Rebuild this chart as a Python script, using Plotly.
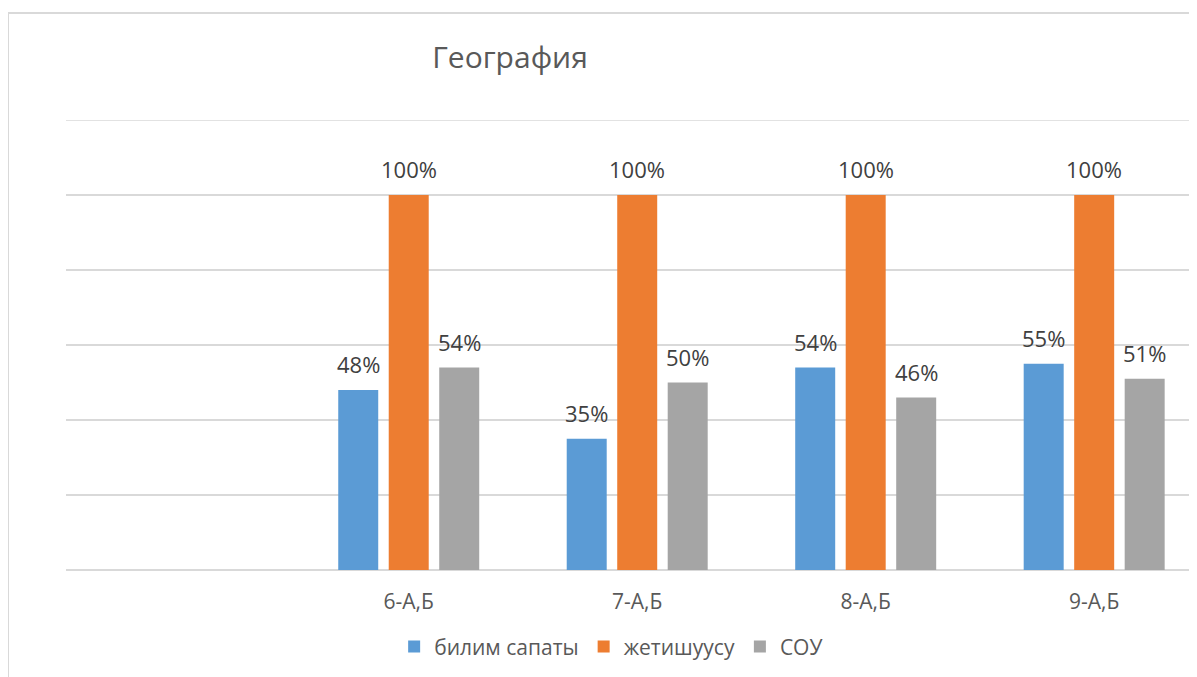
import plotly.graph_objects as go

# classes (first slot is empty in the original sheet)
classes = [" ", "6-А,Б", "7-А,Б", "8-А,Б", "9-А,Б"]
bilim_sapaty = [None, 0.48, 0.35, 0.54, 0.55]
zhetishuusu = [None, 1.00, 1.00, 1.00, 1.00]
sou = [None, 0.54, 0.50, 0.46, 0.51]

series_names = ["билим сапаты", "жетишуусу", "СОУ"]
series_vals = [bilim_sapaty, zhetishuusu, sou]
colors = ["#5B9BD5", "#ED7D31", "#A5A5A5"]

FONT = "Open Sans"

fig = go.Figure()
for name, vals, col in zip(series_names, series_vals, colors):
    fig.add_trace(go.Bar(x=classes, y=vals, name=name, marker_color=col,
                         marker_line_width=0, hoverinfo="skip"))

# data labels, shifted so they sit over their own bar in the group
slot = 50.5
annots = []
for i, vals in enumerate(series_vals):
    for c, v in zip(classes, vals):
        if v is None:
            continue
        annots.append(dict(x=c, y=v, xref="x", yref="y", text=f"{v:.0%}",
                           showarrow=False, xshift=(i - 1) * slot, yshift=26,
                           yanchor="middle",
                           font=dict(family=FONT, size=22, color="#404040")))

# page has an 8px body margin, so everything is drawn 8px left/up of target
fig.update_layout(
    width=1197, height=677,
    margin=dict(l=58, r=8, t=112, b=115),
    paper_bgcolor="white", plot_bgcolor="white",
    barmode="group", bargap=0.337, bargroupgap=0.208,
    title=dict(text="География", x=502 / 1197, xanchor="center",
               y=1 - 49 / 677, yanchor="middle",
               font=dict(family=FONT, size=30, color="#595959")),
    xaxis=dict(range=[-0.5, 4.45], showgrid=False, showline=False,
               ticks="", ticklabelstandoff=17,
               tickfont=dict(family=FONT, size=21, color="#595959")),
    yaxis=dict(range=[0, 1.2], dtick=0.2, showticklabels=False,
               showgrid=True, gridcolor="#D9D9D9", gridwidth=1.5,
               zeroline=True, zerolinecolor="#D9D9D9", zerolinewidth=1.5),
    legend=dict(orientation="h", x=0.482, xanchor="center",
                y=-0.171, yanchor="middle",
                font=dict(family=FONT, size=21, color="#595959")),
    annotations=annots,
    shapes=[
        # top gridline at 120% (not drawn by plotly at the range edge)
        dict(type="line", xref="paper", yref="y", x0=0, x1=1.05,
             y0=1.2, y1=1.2, line=dict(color="#D9D9D9", width=1.5)),
        # chart border (left and top edges visible)
        dict(type="line", xref="paper", yref="paper",
             x0=(0 - 58) / 1131, x1=(0 - 58) / 1131,
             y0=(562 - 5) / 450, y1=(562 - 700) / 450,
             line=dict(color="#D9D9D9", width=2)),
        dict(type="line", xref="paper", yref="paper",
             x0=(0 - 58) / 1131, x1=1.1,
             y0=(562 - 5) / 450, y1=(562 - 5) / 450,
             line=dict(color="#D9D9D9", width=2)),
    ],
    showlegend=True,
)

fig.write_html("out.html")
